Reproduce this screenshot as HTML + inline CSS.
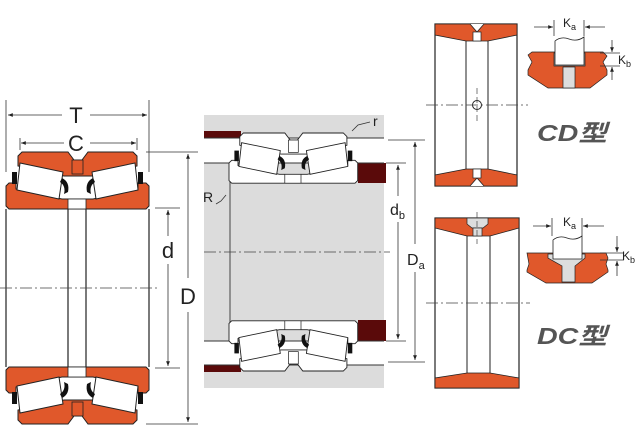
<!DOCTYPE html>
<html><head><meta charset="utf-8"><style>
html,body{margin:0;padding:0;background:#fff;width:640px;height:440px;overflow:hidden}
svg{display:block}
text{font-family:"Liberation Sans",sans-serif;fill:#222}
</style></head><body>
<svg width="640" height="440" viewBox="0 0 640 440" xmlns="http://www.w3.org/2000/svg">
<defs>
<marker id="a" viewBox="0 0 10 10" refX="10" refY="5" markerWidth="6" markerHeight="6" orient="auto-start-reverse"><path d="M0,1 L10,5 L0,9 z" fill="#222"/></marker>
</defs>

<!-- LEFT bearing -->
<g id="L">
<path d="M18,156 L22,152 L68,152 L74,160 L82,160 L88,152 L133,152 L137,156 L137,166 L92,176 L64,176 L18,166 Z" fill="#e0582b" stroke="#222"/>
<rect x="72" y="160" width="11" height="14" fill="#e0582b" stroke="#222" stroke-width="0.8"/>
<path d="M6,186 L9,183 L16,183 L16,189 L62,199 L93,199 L138,189 L138,183 L146,183 L149,186 L149,206 L146,209 L9,209 L6,206 Z" fill="#e0582b" stroke="#222"/>
<rect x="68" y="199" width="18" height="10" fill="#fff" stroke="#222" stroke-width="0.8"/>
<path d="M20,163 L63,172 L59,199 L17,190 Z" fill="#fff" stroke="#222"/>
<path d="M135,163 L92,172 L96,199 L138,190 Z" fill="#fff" stroke="#222"/>
<path d="M62,178 q8,4 6,14 l-4,2 q2,-8 -4,-12 z" fill="#111"/>
<path d="M93,178 q-8,4 -6,14 l4,2 q-2,-8 4,-12 z" fill="#111"/>
<rect x="12" y="172" width="5" height="12" fill="#111"/>
<rect x="138" y="172" width="5" height="12" fill="#111"/>
</g>
<use href="#L" transform="translate(0,576) scale(1,-1)"/>
<g stroke="#222" stroke-width="1.2" fill="none">
<line x1="6" y1="209" x2="6" y2="367"/><line x1="149" y1="209" x2="149" y2="367"/>
<line x1="68" y1="209" x2="68" y2="367"/><line x1="86" y1="209" x2="86" y2="367"/>
</g>
<line x1="0" y1="288" x2="160" y2="288" stroke="#444" stroke-width="0.7" stroke-dasharray="12,3,2,3"/>
<!-- dims left -->
<g stroke="#333" stroke-width="0.8" fill="none">
<line x1="6" y1="100" x2="6" y2="172"/><line x1="149" y1="100" x2="149" y2="172"/>
<line x1="8" y1="115" x2="62" y2="115" marker-start="url(#a)"/><line x1="90" y1="115" x2="147" y2="115" marker-end="url(#a)"/>
<line x1="20" y1="138" x2="20" y2="150"/><line x1="137" y1="138" x2="137" y2="150"/>
<line x1="21" y1="143" x2="64" y2="143" marker-start="url(#a)"/><line x1="90" y1="143" x2="136" y2="143" marker-end="url(#a)"/>
<line x1="146" y1="152" x2="198" y2="152"/><line x1="146" y1="424" x2="198" y2="424"/>
<line x1="155" y1="208" x2="180" y2="208"/><line x1="155" y1="368" x2="180" y2="368"/>
<line x1="168" y1="210" x2="168" y2="236" marker-start="url(#a)"/><line x1="168" y1="264" x2="168" y2="366" marker-end="url(#a)"/>
<line x1="188" y1="154" x2="188" y2="278" marker-start="url(#a)"/><line x1="188" y1="312" x2="188" y2="422" marker-end="url(#a)"/>
</g>
<text x="76" y="123" font-size="22" text-anchor="middle">T</text>
<text x="76" y="151" font-size="22" text-anchor="middle">C</text>
<text x="168" y="258" font-size="22" text-anchor="middle">d</text>
<text x="188" y="304" font-size="22" text-anchor="middle">D</text>

<!-- MIDDLE -->
<rect x="204" y="115" width="180" height="273" fill="#dcdcdc"/>
<rect x="204" y="138" width="180" height="25" fill="#fff"/>
<rect x="204" y="341" width="180" height="24" fill="#fff"/>
<rect x="204" y="131" width="37" height="7" fill="#5a0a0a"/>
<rect x="358" y="163" width="28" height="20" fill="#5a0a0a"/>
<rect x="358" y="320" width="28" height="21" fill="#5a0a0a"/>
<rect x="204" y="365" width="37" height="7" fill="#5a0a0a"/>
<g stroke="#333" stroke-width="0.9" fill="none">
<line x1="204" y1="138" x2="384" y2="138"/><line x1="204" y1="163" x2="384" y2="163"/>
<line x1="204" y1="341" x2="384" y2="341"/><line x1="204" y1="365" x2="384" y2="365"/>
<line x1="230" y1="163" x2="230" y2="341"/>
</g>
<g id="M" transform="translate(229,133) scale(0.9,0.88) translate(-6,-152)">
<path d="M18,156 L22,152 L68,152 L74,160 L82,160 L88,152 L133,152 L137,156 L137,166 L92,176 L64,176 L18,166 Z" fill="#fff" stroke="#222"/>
<rect x="72" y="160" width="11" height="14" fill="#fff" stroke="#222" stroke-width="0.8"/>
<path d="M6,186 L9,183 L16,183 L16,189 L62,199 L93,199 L138,189 L138,183 L146,183 L149,186 L149,206 L146,209 L9,209 L6,206 Z" fill="#fff" stroke="#222"/>
<rect x="68" y="199" width="18" height="10" fill="#fff" stroke="#222" stroke-width="0.8"/>
<path d="M20,163 L63,172 L59,199 L17,190 Z" fill="#fff" stroke="#222"/>
<path d="M135,163 L92,172 L96,199 L138,190 Z" fill="#fff" stroke="#222"/>
<path d="M62,178 q8,4 6,14 l-4,2 q2,-8 -4,-12 z" fill="#111"/>
<path d="M93,178 q-8,4 -6,14 l4,2 q-2,-8 4,-12 z" fill="#111"/>
<rect x="12" y="172" width="5" height="12" fill="#111"/>
<rect x="138" y="172" width="5" height="12" fill="#111"/>
</g>
<g transform="translate(229,371) scale(0.9,-0.88) translate(-6,-152)">
<path d="M18,156 L22,152 L68,152 L74,160 L82,160 L88,152 L133,152 L137,156 L137,166 L92,176 L64,176 L18,166 Z" fill="#fff" stroke="#222"/>
<rect x="72" y="160" width="11" height="14" fill="#fff" stroke="#222" stroke-width="0.8"/>
<path d="M6,186 L9,183 L16,183 L16,189 L62,199 L93,199 L138,189 L138,183 L146,183 L149,186 L149,206 L146,209 L9,209 L6,206 Z" fill="#fff" stroke="#222"/>
<rect x="68" y="199" width="18" height="10" fill="#fff" stroke="#222" stroke-width="0.8"/>
<path d="M20,163 L63,172 L59,199 L17,190 Z" fill="#fff" stroke="#222"/>
<path d="M135,163 L92,172 L96,199 L138,190 Z" fill="#fff" stroke="#222"/>
<path d="M62,178 q8,4 6,14 l-4,2 q2,-8 -4,-12 z" fill="#111"/>
<path d="M93,178 q-8,4 -6,14 l4,2 q-2,-8 4,-12 z" fill="#111"/>
<rect x="12" y="172" width="5" height="12" fill="#111"/>
<rect x="138" y="172" width="5" height="12" fill="#111"/>
</g>
<line x1="204" y1="252" x2="390" y2="252" stroke="#444" stroke-width="0.7" stroke-dasharray="12,3,2,3"/>
<g stroke="#333" stroke-width="0.8" fill="none">
<path d="M352,131 l6,-6 l12,-3"/><path d="M226,195 l-5,6 l-5,3"/>
<line x1="388" y1="140" x2="425" y2="140"/><line x1="388" y1="362" x2="425" y2="362"/>
<line x1="386" y1="163" x2="406" y2="163"/><line x1="386" y1="341" x2="406" y2="341"/>
<line x1="398" y1="165" x2="398" y2="196" marker-start="url(#a)"/><line x1="398" y1="222" x2="398" y2="339" marker-end="url(#a)"/>
<line x1="415" y1="142" x2="415" y2="244" marker-start="url(#a)"/><line x1="415" y1="272" x2="415" y2="360" marker-end="url(#a)"/>
</g>
<text x="373" y="126" font-size="14">r</text>
<text x="203" y="202" font-size="14">R</text>
<text x="390" y="215" font-size="16">d<tspan font-size="11" dy="4">b</tspan></text>
<text x="407" y="265" font-size="16">D<tspan font-size="11" dy="4">a</tspan></text>

<!-- CD panel -->
<rect x="435" y="24" width="82" height="162" fill="#fff" stroke="#222" stroke-width="1.2"/>
<path d="M435,24 L517,24 L517,35 L488,41 L466,41 L435,35 Z" fill="#e0582b" stroke="#222" stroke-width="0.8"/>
<path d="M435,186 L517,186 L517,175 L488,169 L466,169 L435,175 Z" fill="#e0582b" stroke="#222" stroke-width="0.8"/>
<path d="M470,24 l7,8 l7,-8" fill="#fff" stroke="#222" stroke-width="0.8"/>
<path d="M470,186 l7,-8 l7,8" fill="#fff" stroke="#222" stroke-width="0.8"/>
<rect x="473" y="32" width="8" height="9" fill="#fff" stroke="#222" stroke-width="0.7"/>
<rect x="473" y="169" width="8" height="9" fill="#fff" stroke="#222" stroke-width="0.7"/>
<line x1="466" y1="41" x2="466" y2="169" stroke="#222"/><line x1="488" y1="41" x2="488" y2="169" stroke="#222"/>
<circle cx="477" cy="105" r="4.5" fill="#fff" stroke="#222"/>
<line x1="426" y1="105" x2="528" y2="105" stroke="#444" stroke-width="0.7" stroke-dasharray="12,3,2,3"/>
<line x1="477" y1="88" x2="477" y2="122" stroke="#444" stroke-width="0.7" stroke-dasharray="6,3"/>
<!-- CD inset -->
<path d="M528,55 L532,52 L603,52 L607,56 L603,62 L607,70 L607,75 L590,88 L548,88 L528,75 L528,70 L532,62 Z" fill="#e0582b" stroke="#222" stroke-width="0.7"/>
<rect x="554" y="53" width="31" height="13" fill="#ddd" stroke="#222" stroke-width="0.7"/>
<rect x="563" y="67" width="12" height="21" fill="#ddd" stroke="#222" stroke-width="0.7"/>
<path d="M555,65 L555,41 q6,-5 14,-2 q8,3 15,-2 L584,65 Z" fill="#fff" stroke="#222" stroke-width="0.8"/>
<g stroke="#333" stroke-width="0.8" fill="none">
<line x1="554" y1="20" x2="554" y2="36"/><line x1="584" y1="20" x2="584" y2="36"/>
<line x1="534" y1="27" x2="553" y2="27" marker-end="url(#a)"/><line x1="605" y1="27" x2="585" y2="27" marker-end="url(#a)"/>
<line x1="600" y1="53" x2="620" y2="53"/><line x1="600" y1="66" x2="620" y2="66"/>
<line x1="612" y1="40" x2="612" y2="52" marker-end="url(#a)"/><line x1="612" y1="80" x2="612" y2="67" marker-end="url(#a)"/>
</g>
<text x="563" y="27" font-size="12">K<tspan font-size="9" dy="3">a</tspan></text>
<text x="618" y="64" font-size="12">K<tspan font-size="9" dy="3">b</tspan></text>
<text x="537" y="141" font-size="23" font-weight="bold" font-style="italic" textLength="70" lengthAdjust="spacingAndGlyphs" style="font-family:'Liberation Sans','Noto Sans CJK SC',sans-serif;fill:#555">CD型</text>

<!-- DC panel -->
<rect x="435" y="218" width="84" height="170" fill="#fff" stroke="#222" stroke-width="1.2"/>
<path d="M435,218 L519,218 L519,228 L490,236 L467,236 L435,228 Z" fill="#e0582b" stroke="#222" stroke-width="0.8"/>
<path d="M435,388 L519,388 L519,378 L490,373 L467,373 L435,378 Z" fill="#e0582b" stroke="#222" stroke-width="0.8"/>
<path d="M467,218 L467,224 L472,228 L483,228 L488,224 L488,218 Z" fill="#ddd" stroke="#222" stroke-width="0.7"/>
<rect x="473" y="228" width="9" height="8" fill="#ddd" stroke="#222" stroke-width="0.7"/>
<line x1="467" y1="236" x2="467" y2="373" stroke="#222"/><line x1="490" y1="236" x2="490" y2="373" stroke="#222"/>
<line x1="426" y1="303" x2="530" y2="303" stroke="#444" stroke-width="0.7" stroke-dasharray="12,3,2,3"/>
<line x1="477" y1="212" x2="477" y2="244" stroke="#444" stroke-width="0.7" stroke-dasharray="6,3"/>
<!-- DC inset -->
<path d="M527,253 L606,253 L608,258 L606,264 L608,270 L608,272 L592,283 L546,283 L527,272 L527,270 L529,264 Z" fill="#e0582b" stroke="#222" stroke-width="0.7"/>
<path d="M548,254 L585,254 L585,258 L575,266 L575,282 L562,282 L562,266 L548,258 Z" fill="#ddd" stroke="#222" stroke-width="0.7"/>
<path d="M553,259 L553,240 q6,-5 14,-2 q8,3 15,-2 L582,259 Z" fill="#fff" stroke="#222" stroke-width="0.8"/>
<g stroke="#333" stroke-width="0.8" fill="none">
<line x1="552" y1="218" x2="552" y2="236"/><line x1="582" y1="218" x2="582" y2="236"/>
<line x1="533" y1="226" x2="551" y2="226" marker-end="url(#a)"/><line x1="604" y1="226" x2="583" y2="226" marker-end="url(#a)"/>
<line x1="600" y1="253" x2="624" y2="253"/><line x1="600" y1="260" x2="624" y2="260"/>
<line x1="617" y1="236" x2="617" y2="252" marker-end="url(#a)"/><line x1="617" y1="276" x2="617" y2="261" marker-end="url(#a)"/>
</g>
<text x="563" y="226" font-size="12">K<tspan font-size="9" dy="3">a</tspan></text>
<text x="622" y="260" font-size="12">K<tspan font-size="9" dy="3">b</tspan></text>
<text x="537" y="344" font-size="23" font-weight="bold" font-style="italic" textLength="70" lengthAdjust="spacingAndGlyphs" style="font-family:'Liberation Sans','Noto Sans CJK SC',sans-serif;fill:#555">DC型</text>
</svg>
</body></html>
